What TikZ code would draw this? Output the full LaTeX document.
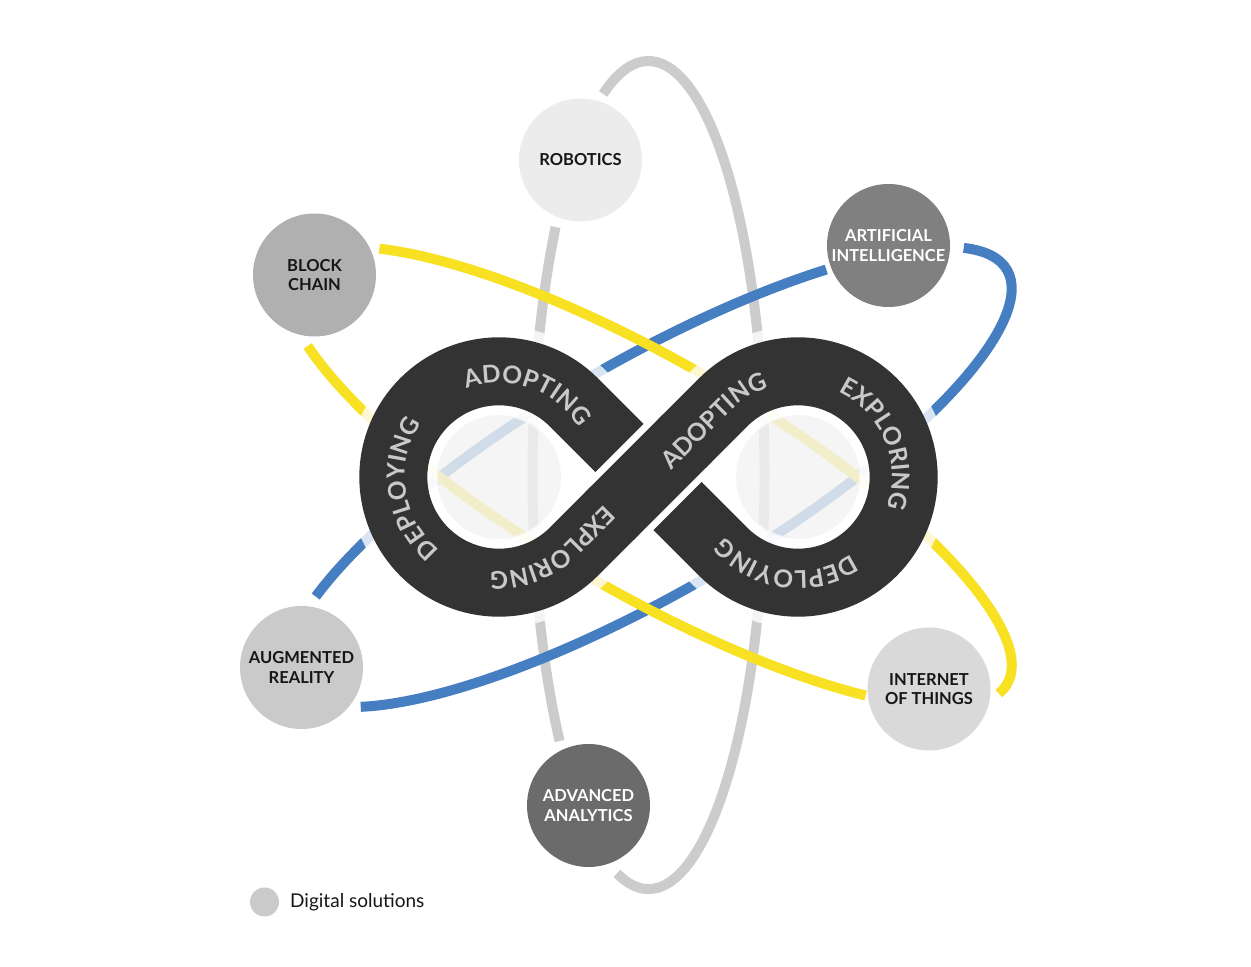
\documentclass[tikz,border=0pt]{standalone}
\usepackage{fontspec}
\setmainfont{Lato}
\usetikzlibrary{decorations.text}
\definecolor{bandc}{HTML}{333333}
\definecolor{bandtxt}{HTML}{C9C9C9}
\definecolor{orbgray}{HTML}{CCCCCC}
\definecolor{orbblue}{HTML}{457EC1}
\definecolor{orbyel}{HTML}{F8E023}
\definecolor{txtdark}{HTML}{161616}
\definecolor{cRob}{HTML}{ECECEC}
\definecolor{cBlock}{HTML}{B0B0B0}
\definecolor{cAI}{HTML}{808080}
\definecolor{cAR}{HTML}{CACACA}
\definecolor{cIoT}{HTML}{D9D9D9}
\definecolor{cAA}{HTML}{6B6B6B}
\newcommand\bandfnt{\bfseries\fontsize{24.5}{25}\selectfont\color{bandtxt}}
\newcommand\solfnt{\bfseries\fontsize{16.5}{19.5}\selectfont}
\begin{document}
\begin{tikzpicture}[x=1pt,y=1pt,
  orbit/.style={line width=10pt},
  sol/.style={circle, inner sep=0pt, minimum size=123pt, align=center, font=\solfnt, text=txtdark},
  bandline/.style={decorate, decoration={text along path, text={|\bandfnt|#1}, text align=center}},
  bandlineleft/.style={decorate, decoration={text along path, text={|\bandfnt|#1}}}]
\fill[white] (0,0) rectangle (1251,967);
\useasboundingbox (0,0) rectangle (1251,967);
\coordinate (O) at (648.5,490);
\coordinate (L) at (499,490);
\coordinate (R) at (798,490);
\coordinate (TLB) at (573.75,415.25);
\coordinate (TRB) at (723.25,415.25);
% orbits
\draw[orbgray, orbit, shift={(648.5,492)}] (143.2:116 and 414) arc[start angle=143.2, end angle=220, x radius=116, y radius=414];
\draw[orbgray, orbit, shift={(648.5,492)}] (254.2:116 and 414) arc[start angle=254.2, end angle=473, x radius=116, y radius=414];
\draw[orbblue, orbit, shift={(648.5,490)}, rotate=30] (51.5:414 and 116) arc[start angle=51.5, end angle=147.2, x radius=414, y radius=116];
\draw[orbblue, orbit, shift={(648.5,490)}, rotate=30] (208.4:414 and 116) arc[start angle=208.4, end angle=380.6, x radius=414, y radius=116];
\draw[orbyel, orbit, shift={(648.5,490)}, rotate=-30] (-6.1:414 and 116) arc[start angle=-6.1, end angle=147, x radius=414, y radius=116];
\draw[orbyel, orbit, shift={(648.5,490)}, rotate=-30] (209.4:414 and 116) arc[start angle=209.4, end angle=315.9, x radius=414, y radius=116];
% veil over the loops
\fill[white, fill opacity=0.8] (O) -- (TLB) arc[start angle=-45, end angle=-315, radius=105.7] -- cycle;
\fill[white, fill opacity=0.8] (O) -- (TRB) arc[start angle=-135, end angle=135, radius=105.7] -- cycle;
\draw[white, draw opacity=0.8, line width=90pt] (O) -- (TLB) arc[start angle=-45, end angle=-315, radius=105.7] -- (TRB) arc[start angle=-135, end angle=135, radius=105.7] -- cycle;
\fill[black, fill opacity=0.04] (L) circle[radius=62];
\fill[black, fill opacity=0.04] (R) circle[radius=62];
% band
\draw[bandc, line width=68pt, line join=round] (O) -- (TLB) arc[start angle=-45, end angle=-315, radius=105.7] -- (TRB) arc[start angle=-135, end angle=135, radius=105.7] -- cycle;
\draw[white, line width=82pt] (615.3,456.8) -- (681.7,523.2);
\draw[bandc, line width=68pt] (609.6,451.1) -- (687.4,528.9);
% band texts
\path[bandline=ADOPTING, shift={(499,490)}] (131:94) arc[start angle=131, end angle=11, radius=94];
\path[bandline=DEPLOYING, shift={(499,490)}] (248:94) arc[start angle=248, end angle=128, radius=94];
\path[bandlineleft=EXPLORING] (604.6,462.7) -- (565.5,423.5) arc[start angle=-45, end angle=-160, radius=94];
\path[bandlineleft=ADOPTING] (671.3,496.2) -- (731.5,556.5) arc[start angle=135, end angle=40, radius=94];
\path[bandline=EXPLORING, shift={(798,490)}] (82.8:94) arc[start angle=82.8, end angle=-37.2, radius=94];
\path[bandline=DEPLOYING, shift={(798,490)}] (-38:94) arc[start angle=-38, end angle=-158, radius=94];
% solutions
\node[sol, fill=cRob] (rob) at (580.5,807) {ROBOTICS};
\node[sol, fill=cBlock] (block) at (314.5,692) {BLOCK\\CHAIN};
\node[sol, fill=cAI, text=white] (ai) at (888.5,721.5) {ARTIFICIAL\\INTELLIGENCE};
\node[sol, fill=cAR] (ar) at (301.5,299.5) {AUGMENTED\\REALITY};
\node[sol, fill=cIoT] (iot) at (929,278) {INTERNET\\OF THINGS};
\node[sol, fill=cAA, text=white] (aa) at (588.5,161.5) {ADVANCED\\ANALYTICS};
% legend
\node[circle, fill=cAR, minimum size=29pt, inner sep=0pt] (leg) at (264.5,65) {};
\node[anchor=base west, font=\fontsize{19}{22}\selectfont, text=txtdark, inner sep=0pt] (legt) at (290,59) {Digital solutions};
\end{tikzpicture}
\end{document}
